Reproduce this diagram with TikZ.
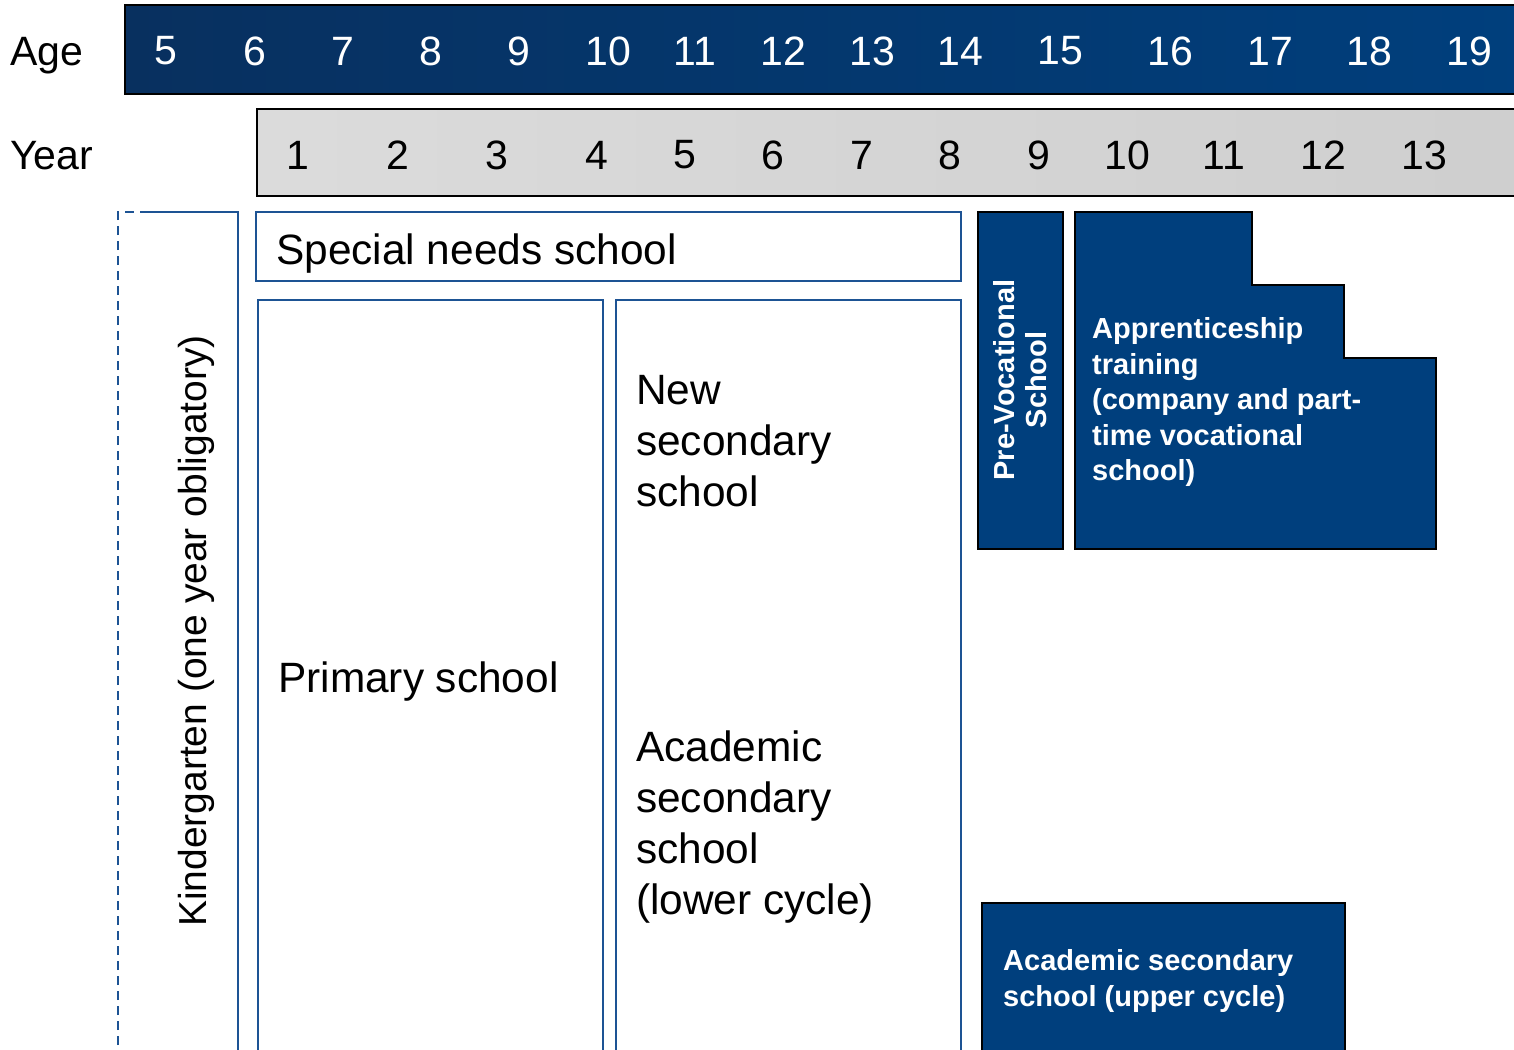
\documentclass[tikz,border=0pt]{standalone}
\usepackage{fontspec}
\setmainfont{Liberation Sans}
\usepackage{tikz}
\usetikzlibrary{calc}

\definecolor{darkblue}{HTML}{003F7D}
\definecolor{barblue}{HTML}{08305F}
\definecolor{lineblue}{HTML}{1D5394}

\tikzset{
	bigtext/.style={font=\fontsize{42.4}{51.3}\selectfont, inner sep=0pt},
	numtext/.style={font=\fontsize{41}{49}\selectfont, inner sep=0pt},
	boldtext/.style={font=\fontsize{29}{35.5}\selectfont\bfseries, text=white, inner sep=0pt},
	whitebox/.style={draw=lineblue, line width=1.5pt, fill=white},
	bluebox/.style={draw=black, line width=1.5pt, fill=darkblue},
}

\begin{document}
\begin{tikzpicture}[x={(1pt,0pt)}, y={(0pt,-1pt)}]
			\useasboundingbox (0,0) rectangle (1514,1049);
			
			% header bars
			\draw[line width=1.5pt, left color=barblue, right color=darkblue] (125,5) rectangle (1530,94);
			\draw[line width=1.5pt, left color=gray!28, right color=gray!38] (257,109) rectangle (1530,196);
			
			\node[numtext, anchor=base west] (age) at (10,66) {Age};
			\node[numtext, anchor=base west] (year) at (10,169) {Year};
			
			\foreach \a/\x in {5/166,6/255,7/343,8/431,9/519,10/608,11/695,12/783,13/872,14/960,15/1060,16/1170,17/1270,18/1369,19/1469}
				\node[numtext, text=white] (age\a) at (\x,51) {\a};
			\foreach \y/\x in {1/298,2/398,3/497,4/597,5/685,6/773,7/862,8/950,9/1039,10/1127,11/1224,12/1323,13/1424}
				\node[numtext] (year\y) at (\x,155) {\y};
			
			% kindergarten
			\draw[lineblue, line width=1.5pt, dashed, dash pattern=on 9pt off 6pt] (118,1060) -- (118,212) -- (145,212);
			\draw[lineblue, line width=1.5pt] (145,212) -- (238,212) -- (238,1060);
			\node[bigtext, font=\fontsize{39}{47}\selectfont, rotate=90] (kinder) at (196,631) {Kindergarten (one year obligatory)};
			
			% white boxes
			\draw[whitebox] (256,212) rectangle (961,281);
			\node[bigtext, anchor=base west] (special) at (276,264) {Special needs school};
			
			\draw[whitebox] (258,300) rectangle (603,1060);
			\node[bigtext, anchor=west] (primary) at (278,682) {Primary school};
			
			\draw[whitebox] (616,300) rectangle (961,1060);
			\node[bigtext, anchor=west, align=left] (newsec) at (636,441) {New\\secondary\\school};
			\node[bigtext, anchor=west, align=left] (acalower) at (636,827) {Academic\\secondary\\school\\(lower cycle)};
			
			% blue boxes
			\draw[bluebox] (978,212) rectangle (1063,549);
			\node[boldtext, rotate=90, align=center, font=\fontsize{29}{32}\selectfont\bfseries] (prevoc) at (1020,380) {Pre-Vocational\\School};
			
			\draw[bluebox] (1075,212) -- (1252,212) -- (1252,285) -- (1344,285) -- (1344,358) -- (1436,358) -- (1436,549) -- (1075,549) -- cycle;
			\node[boldtext, anchor=west, align=left] (appr) at (1092,402) {Apprenticeship\\training\\(company and part-\\time vocational\\school)};
			
			\draw[bluebox] (982,903) rectangle (1345,1060);
			\node[boldtext, anchor=west, align=left] (acaupper) at (1003,981) {Academic secondary\\school (upper cycle)};
		\end{tikzpicture}
\end{document}
